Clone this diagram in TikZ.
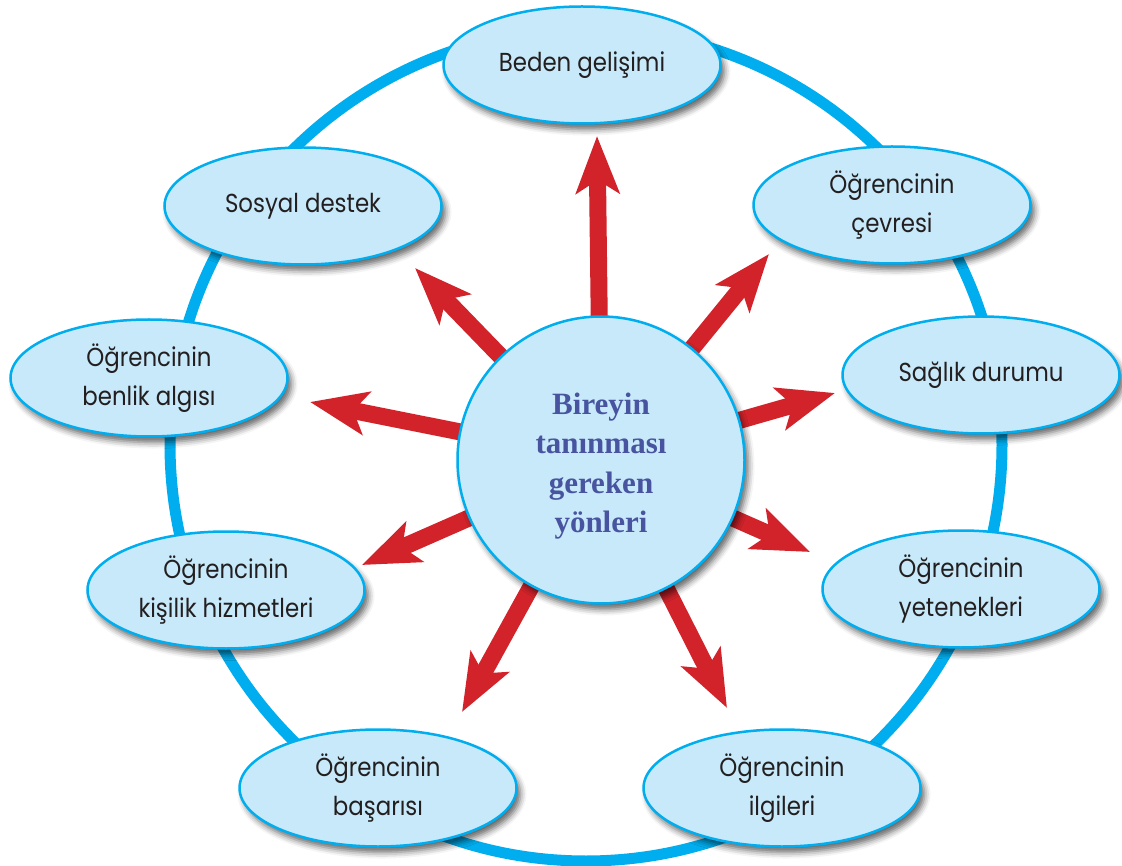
\documentclass[tikz,border=0pt]{standalone}
\usepackage{fontspec}
\setmainfont{Poppins}[FakeStretch=0.88]
\newfontfamily\titlefont{Liberation Serif}
\usetikzlibrary{arrows.meta,shapes.geometric,shadows.blur}

\definecolor{ringblue}{RGB}{0,173,238}
\definecolor{bubblefill}{RGB}{199,233,249}
\definecolor{arrowred}{RGB}{210,35,42}
\definecolor{textgray}{RGB}{35,31,32}
\definecolor{titleblue}{RGB}{72,84,160}

\tikzset{
  softshadow/.style={blur shadow={shadow xshift=4pt, shadow yshift=-6pt,
      shadow blur radius=6pt, shadow opacity=60}},
  bubble/.style={ellipse, draw=ringblue, line width=2.5pt, fill=bubblefill,
      minimum width=277pt, minimum height=117pt, inner sep=0pt, align=center,
      font=\fontsize{26}{39}\selectfont, text=textgray, softshadow},
  hub/.style={circle, draw=ringblue, line width=2.5pt, fill=bubblefill,
      minimum size=287pt, inner sep=0pt, align=center,
      font=\titlefont\bfseries\fontsize{31}{39.5}\selectfont, text=titleblue, softshadow},
  spoke/.style={draw=arrowred, line width=17pt,
      -{Stealth[length=57pt,width=43pt,inset=13pt]}},
  ring/.style={draw=ringblue, line width=11pt},
}

\begin{document}
\begin{tikzpicture}[x=1pt,y=-1pt]
  \useasboundingbox (0,0) rectangle (1122,866);

  % outer ring
  \coordinate (ringc) at (586,445);
  \draw[ring] (ringc) circle[radius=416];

  % spokes from the hub towards the bubbles
  \coordinate (hubc) at (601,460);
  \coordinate (t1) at (597,136);
  \coordinate (t2) at (769,254);
  \coordinate (t3) at (835,393);
  \coordinate (t4) at (810,552);
  \coordinate (t5) at (727,708);
  \coordinate (t6) at (462,712);
  \coordinate (t7) at (362,565);
  \coordinate (t8) at (310,402);
  \coordinate (t9) at (415,268);
  \foreach \t in {t1,t2,t3,t4,t5,t6,t7,t8,t9}
    \draw[spoke] (hubc) -- (\t);

  % central hub
  \node[hub] (hub) at (hubc) {\rule{0pt}{34pt}Bireyin\\tanınması\\gereken\\yönleri};

  % surrounding bubbles
  \node[bubble] (beden)   at (582,65)  {Beden gelişimi};
  \node[bubble] (cevre)   at (892,205) {Öğrencinin\\çevresi};
  \node[bubble] (saglik)  at (981,375) {Sağlık durumu};
  \node[bubble] (yetenek) at (961,589) {Öğrencinin\\yetenekleri};
  \node[bubble] (ilgi)    at (782,788) {Öğrencinin\\ilgileri};
  \node[bubble] (basari)  at (378,788) {Öğrencinin\\başarısı};
  \node[bubble] (kisilik) at (226,590) {Öğrencinin\\kişilik hizmetleri};
  \node[bubble] (benlik)  at (149,378) {Öğrencinin\\benlik algısı};
  \node[bubble] (sosyal)  at (303,206) {Sosyal destek};
\end{tikzpicture}
\end{document}
